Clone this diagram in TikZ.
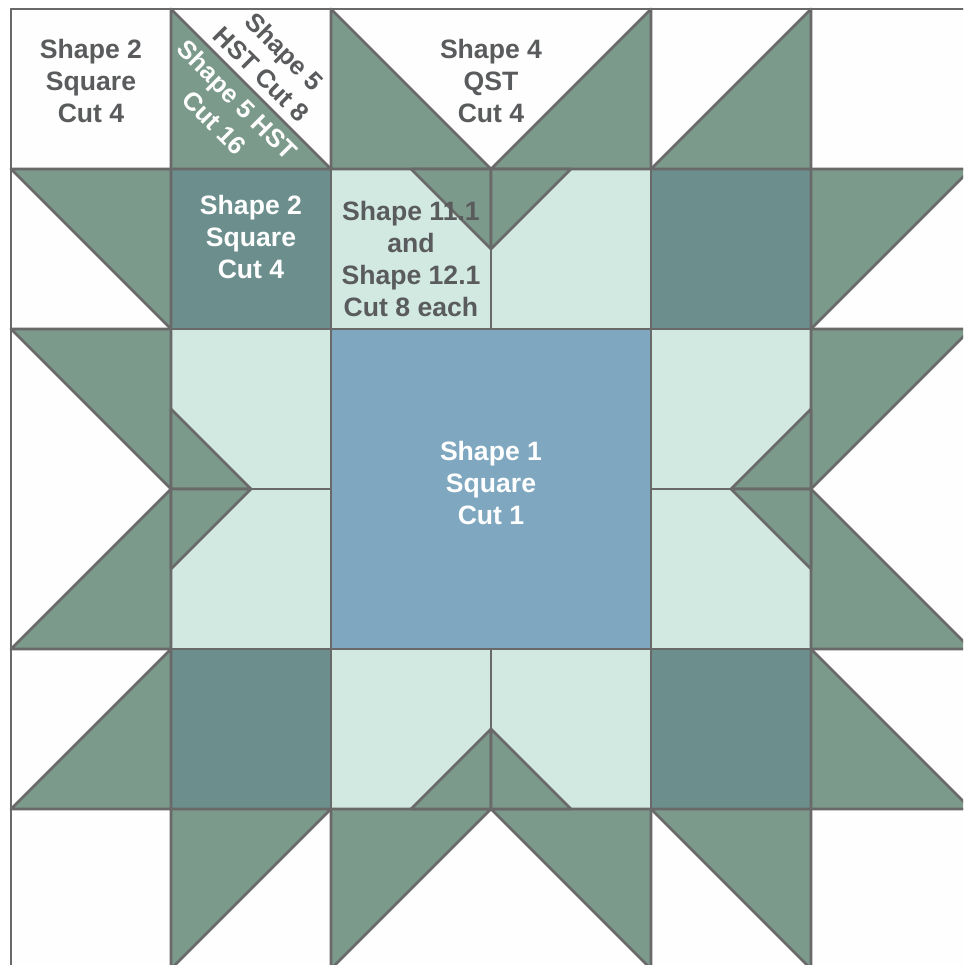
\documentclass[tikz,border=0pt]{standalone}
\usepackage{fontspec}
\setmainfont{Liberation Sans}
\definecolor{quiltwhite}{HTML}{FDFEFD}
\definecolor{quiltgreen}{HTML}{7C9A8C}
\definecolor{quiltteal}{HTML}{6C8F8E}
\definecolor{quiltlight}{HTML}{D2E9E1}
\definecolor{quiltblue}{HTML}{7FA8C0}
\definecolor{quiltline}{HTML}{696969}
\definecolor{quilttext}{HTML}{5A5B5D}
\tikzset{
  patch/.style={draw=quiltline,line width=2.8pt,line join=round},
  greenpatch/.style={patch,fill=quiltgreen},
  tealpatch/.style={patch,fill=quiltteal},
  lightpatch/.style={patch,fill=quiltlight},
  bluepatch/.style={patch,fill=quiltblue},
  whitepatch/.style={patch,fill=quiltwhite},
  quilttxt/.style={font=\fontsize{26.6}{32}\selectfont\bfseries,align=center,inner sep=0pt,text=quilttext},
  quilttxtw/.style={quilttxt,text=quiltwhite},
  diagtxt/.style={font=\fontsize{25.6}{32}\selectfont\bfseries,align=center,inner sep=0pt,rotate=-45}
}
\begin{document}
\begin{tikzpicture}[x=1pt,y=-1pt]
\useasboundingbox (0,0) rectangle (963,965);
\begin{scope}
\clip (0,0) rectangle (963,965);
% white ground
\draw[whitepatch] (11,9) rectangle (971,969);
% corner squares
\foreach \cx/\cy in {11/9,811/9,11/809,811/809}
  \draw[whitepatch] (\cx,\cy) rectangle ++(160,160);
% light squares
\foreach \cx/\cy in {331/169,491/169,171/329,171/489,651/329,651/489,331/649,491/649}
  \draw[lightpatch] (\cx,\cy) rectangle ++(160,160);
% dark squares
\foreach \cx/\cy in {171/169,651/169,171/649,651/649}
  \draw[tealpatch] (\cx,\cy) rectangle ++(160,160);
% centre
\draw[bluepatch] (331,329) rectangle (651,649);
% white half of the HST square
\draw[whitepatch] (171,9) rectangle (331,169);
% large triangles
\draw[greenpatch] (171,9) -- (331,169) -- (171,169) -- cycle;
\draw[greenpatch] (331,9) -- (491,169) -- (331,169) -- cycle;
\draw[greenpatch] (651,9) -- (651,169) -- (491,169) -- cycle;
\draw[greenpatch] (811,9) -- (811,169) -- (651,169) -- cycle;
\draw[greenpatch] (11,169) -- (171,169) -- (171,329) -- cycle;
\draw[greenpatch] (811,169) -- (971,169) -- (811,329) -- cycle;
\draw[greenpatch] (11,329) -- (171,329) -- (171,489) -- cycle;
\draw[greenpatch] (811,329) -- (971,329) -- (811,489) -- cycle;
\draw[greenpatch] (171,489) -- (171,649) -- (11,649) -- cycle;
\draw[greenpatch] (811,489) -- (971,649) -- (811,649) -- cycle;
\draw[greenpatch] (171,649) -- (171,809) -- (11,809) -- cycle;
\draw[greenpatch] (811,649) -- (971,809) -- (811,809) -- cycle;
\draw[greenpatch] (171,809) -- (331,809) -- (171,969) -- cycle;
\draw[greenpatch] (331,809) -- (491,809) -- (331,969) -- cycle;
\draw[greenpatch] (491,809) -- (651,809) -- (651,969) -- cycle;
\draw[greenpatch] (651,809) -- (811,809) -- (811,969) -- cycle;
% small triangles
\draw[greenpatch] (411,169) -- (491,169) -- (491,249) -- cycle;
\draw[greenpatch] (491,169) -- (571,169) -- (491,249) -- cycle;
\draw[greenpatch] (171,409) -- (251,489) -- (171,489) -- cycle;
\draw[greenpatch] (171,489) -- (251,489) -- (171,569) -- cycle;
\draw[greenpatch] (811,409) -- (811,489) -- (731,489) -- cycle;
\draw[greenpatch] (811,489) -- (811,569) -- (731,489) -- cycle;
\draw[greenpatch] (491,729) -- (491,809) -- (411,809) -- cycle;
\draw[greenpatch] (491,729) -- (571,809) -- (491,809) -- cycle;
\end{scope}
% labels
\node[quilttxt] (a) at (91,81) {Shape 2\\Square\\Cut 4};
\node[diagtxt,text=quilttext] (b) at (273,63) {Shape 5\\HST Cut 8};
\node[diagtxt,text=quiltwhite] (c) at (226,111) {Shape 5 HST\\Cut 16};
\node[quilttxt] (d) at (491,81) {Shape 4\\QST\\Cut 4};
\node[quilttxtw] (e) at (251,237) {Shape 2\\Square\\Cut 4};
\node[quilttxt] (f) at (411,259) {Shape 11.1\\and\\Shape 12.1\\Cut 8 each};
\node[quilttxtw] (g) at (491,483) {Shape 1\\Square\\Cut 1};
\end{tikzpicture}
\end{document}
